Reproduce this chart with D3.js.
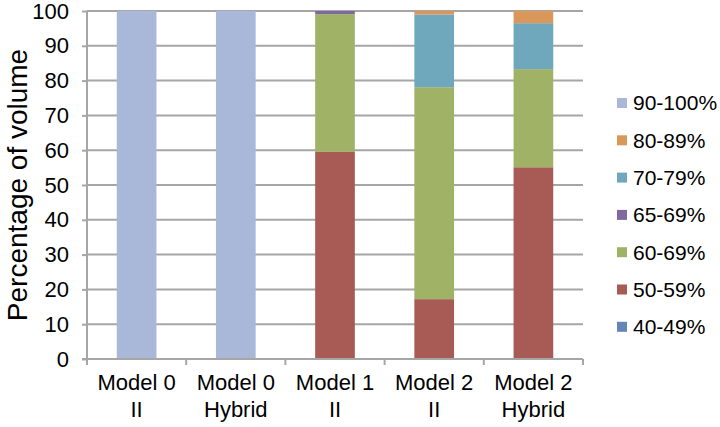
<!DOCTYPE html>
<html><head><meta charset="utf-8">
<script src="https://cdn.jsdelivr.net/npm/d3@7"></script>
<style>body{margin:0;background:#fff;} svg{display:block;font-family:"Liberation Sans",Arial,sans-serif;}</style>
</head><body>
<svg id="chart" width="720" height="427"></svg>
<script>
const categories = [["Model 0","II"],["Model 0","Hybrid"],["Model 1","II"],["Model 2","II"],["Model 2","Hybrid"]];
const seriesNames = ["40-49%","50-59%","60-69%","65-69%","70-79%","80-89%","90-100%"];
const seriesColors = ["#6585B9","#A85B55","#A0B266","#8169A0","#6FA7BD","#D9975A","#A9B8D9"];
const v40_49 = [0,0,0,0,0];
const v50_59 = [0,0,59.5,17.2,55.1];
const v60_69 = [0,0,39.6,60.9,28.2];
const v65_69 = [0,0,0.9,0,0];
const v70_79 = [0,0,0,20.9,13.2];
const v80_89 = [0,0,0,1.0,3.5];
const v90_100 = [100,100,0,0,0];
const yTicks = [0,10,20,30,40,50,60,70,80,90,100];
const seriesValues = [v40_49,v50_59,v60_69,v65_69,v70_79,v80_89,v90_100];

const svg = d3.select("#chart");
const L = 87, R = 583, T = 11, B = 359;
const x = d3.scaleBand().domain(d3.range(categories.length)).range([L,R]).paddingInner(0.6).paddingOuter(0.3);
const xb = d3.scaleBand().domain(d3.range(categories.length)).range([L,R]);
const y = d3.scaleLinear().domain([0,100]).range([B,T]);
const grid = "#A6A6A6";

// gridlines
svg.append("g").selectAll("line").data(yTicks.filter(d=>d>0)).join("line")
  .attr("x1",L).attr("x2",R).attr("y1",d=>y(d)).attr("y2",d=>y(d))
  .attr("stroke",grid).attr("stroke-width",2);

// stacked bars
const rows = categories.map((c,i)=>{const o={i}; seriesNames.forEach((s,k)=>o[s]=seriesValues[k][i]); return o;});
const stack = d3.stack().keys(seriesNames)(rows);
svg.append("g").selectAll("g").data(stack).join("g")
  .attr("fill",(d,k)=>seriesColors[k])
  .selectAll("rect").data(d=>d).join("rect")
  .attr("x",d=>x(d.data.i)).attr("width",x.bandwidth())
  .attr("y",d=>y(d[1])).attr("height",d=>Math.max(0,y(d[0])-y(d[1])));

// y axis
const ya = svg.append("g").attr("transform",`translate(${L},0)`)
  .call(d3.axisLeft(y).tickValues(yTicks).tickSize(5).tickPadding(13));
ya.select(".domain").attr("stroke",grid).attr("stroke-width",2).attr("d",`M0,${T}V${B+1}`);
ya.selectAll(".tick line").attr("stroke",grid).attr("stroke-width",2);
ya.selectAll(".tick text").attr("font-size",22).attr("fill","#000").attr("font-family","Liberation Sans, Arial, sans-serif");

// x axis
svg.append("line").attr("x1",L-5).attr("x2",R).attr("y1",B).attr("y2",B).attr("stroke",grid).attr("stroke-width",2);
svg.append("g").selectAll("line").data(d3.range(categories.length+1)).join("line")
  .attr("x1",d=>L+d*xb.bandwidth()).attr("x2",d=>L+d*xb.bandwidth())
  .attr("y1",B).attr("y2",B+6).attr("stroke",grid).attr("stroke-width",2);
const xl = svg.append("g").selectAll("text").data(categories).join("text")
  .attr("x",(d,i)=>xb(i)+xb.bandwidth()/2).attr("y",390)
  .attr("text-anchor","middle").attr("font-size",22).attr("fill","#000");
xl.append("tspan").attr("x",(d,i)=>xb(i)+xb.bandwidth()/2).text(d=>d[0]);
xl.append("tspan").attr("x",(d,i)=>xb(i)+xb.bandwidth()/2).attr("dy",27).text(d=>d[1]);

// y title
svg.append("text").attr("transform",`translate(27,${(T+B)/2}) rotate(-90)`)
  .attr("text-anchor","middle").attr("font-size",28).attr("fill","#000").text("Percentage of volume");

// legend
const legendOrder = seriesNames.slice().reverse();
const lg = svg.append("g").selectAll("g").data(legendOrder).join("g")
  .attr("transform",(d,i)=>`translate(617,${103+i*37.3})`);
lg.append("rect").attr("x",0).attr("y",-5).attr("width",10).attr("height",10)
  .attr("fill",d=>seriesColors[seriesNames.indexOf(d)]);
lg.append("text").attr("x",16).attr("y",0).attr("dy","0.35em").attr("font-size",21).attr("fill","#000").text(d=>d);
</script>
</body></html>
